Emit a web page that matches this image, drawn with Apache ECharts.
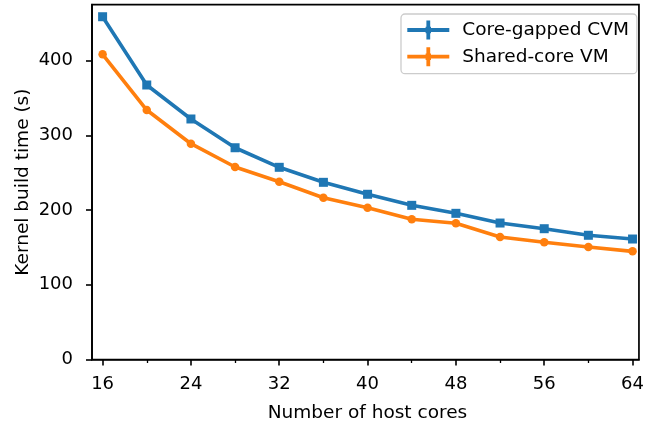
<!DOCTYPE html>
<html>
<head>
<meta charset="utf-8">
<script src="https://cdn.jsdelivr.net/npm/echarts@6/dist/echarts.min.js"></script>
<style>
html,body{margin:0;padding:0;background:#fff;}
#chart{width:647px;height:428px;}
</style>
</head>
<body>
<div id="chart"></div>
<script>
const cores = [16, 20, 24, 28, 32, 36, 40, 44, 48, 52, 56, 60, 64];
const coreGappedCVM = [458.9, 367.5, 322, 283.5, 257.3, 237.2, 221.2, 206.4, 195.7, 182.7, 175.1, 166.3, 161.3];
const sharedCoreVM = [408.6, 334, 288.9, 257.7, 238, 216.6, 203.2, 187.7, 182.3, 164, 156.9, 150.6, 144.8];
const xMajorTicks = [16, 24, 32, 40, 48, 56, 64];
const xMinorTicks = [20, 28, 36, 44, 52, 60];
const yTicks = [0, 100, 200, 300, 400];
const seriesNames = ['Core-gapped CVM', 'Shared-core VM'];

const FONT = 'DejaVu Sans';
const plusIcon = 'path://M0 7.6H42V11.4H0Z M19.1 0H22.9V19H19.1Z M18.3 6.3H23.7V12.7H18.3Z';

const chart = echarts.init(document.getElementById('chart'), null, {renderer: 'canvas'});
const xCommon = {type: 'value', min: 15.04, max: 64.58, splitLine: {show: false}};
chart.setOption({
  animation: false,
  backgroundColor: '#ffffff',
  grid: {left: 92, right: 5.3, top: 4.7, bottom: 68.5, show: true, borderColor: '#000', borderWidth: 1.7, backgroundColor: 'transparent'},
  legend: {
    left: 401, top: 14, orient: 'vertical',
    itemWidth: 42, itemHeight: 19, itemGap: 7.7,
    padding: [6.5, 8, 7.5, 6.3],
    backgroundColor: 'rgba(255,255,255,0.8)', borderColor: '#cccccc', borderWidth: 1.3, borderRadius: 4,
    textStyle: {fontFamily: FONT, fontSize: 18.5, color: '#000', padding: [0, 0, 0, 8]},
    data: [
      {name: seriesNames[0], icon: plusIcon},
      {name: seriesNames[1], icon: plusIcon}
    ]
  },
  xAxis: [
    Object.assign({}, xCommon, {
      name: 'Number of host cores', nameLocation: 'middle', nameGap: 44, nameMoveOverlap: false,
      nameTextStyle: {fontFamily: FONT, fontSize: 18.5, color: '#000', padding: [0, 0, 0, 4]},
      axisLine: {show: true, onZero: false, lineStyle: {color: '#000', width: 1.7}},
      axisTick: {show: true, length: 6, lineStyle: {color: '#000', width: 1.6}, customValues: xMajorTicks},
      axisLabel: {show: true, margin: 16, fontFamily: FONT, fontSize: 18, color: '#000', customValues: xMajorTicks}
    }),
    Object.assign({}, xCommon, {
      position: 'bottom',
      axisLine: {show: false},
      axisTick: {show: true, length: 3.5, lineStyle: {color: '#000', width: 1.3}, customValues: xMinorTicks},
      axisLabel: {show: false}
    })
  ],
  yAxis: {
    type: 'value', min: 0, max: 475,
    name: 'Kernel build time (s)', nameLocation: 'middle', nameGap: 59, nameMoveOverlap: false,
    nameTextStyle: {fontFamily: FONT, fontSize: 18.5, color: '#000'},
    splitLine: {show: false},
    axisLine: {show: true, onZero: false, lineStyle: {color: '#000', width: 1.7}},
    axisTick: {show: true, length: 6, lineStyle: {color: '#000', width: 1.6}, customValues: yTicks},
    axisLabel: {show: true, margin: 19, fontFamily: FONT, fontSize: 18, color: '#000', customValues: yTicks}
  },
  series: [
    {
      name: seriesNames[0], type: 'line', xAxisIndex: 0,
      data: cores.map((c, i) => [c, coreGappedCVM[i]]),
      color: '#1f77b4', symbol: 'rect', symbolSize: 9, showAllSymbol: true,
      lineStyle: {width: 3.6, color: '#1f77b4'}, itemStyle: {color: '#1f77b4'}
    },
    {
      name: seriesNames[1], type: 'line', xAxisIndex: 0,
      data: cores.map((c, i) => [c, sharedCoreVM[i]]),
      color: '#ff7f0e', symbol: 'circle', symbolSize: 8.5, showAllSymbol: true,
      lineStyle: {width: 3.6, color: '#ff7f0e'}, itemStyle: {color: '#ff7f0e'}
    }
  ]
});
</script>
</body>
</html>
